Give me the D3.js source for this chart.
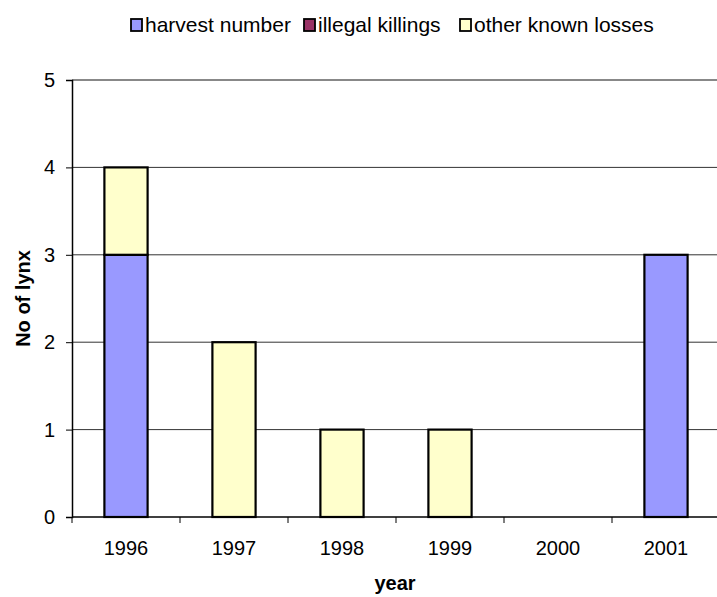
<!DOCTYPE html>
<html>
<head>
<meta charset="utf-8">
<script src="https://cdn.jsdelivr.net/npm/d3@7"></script>
<style>
  body { margin: 0; background: #fff; }
  svg { display: block; font-family: "Liberation Sans", Arial, sans-serif; }
</style>
</head>
<body>
<svg id="chart" width="717" height="597"></svg>
<script>
const years = ['1996', '1997', '1998', '1999', '2000', '2001'];
const harvestNumber = [3, 0, 0, 0, 0, 3];
const illegalKillings = [0, 0, 0, 0, 0, 0];
const otherLosses = [1, 2, 1, 1, 0, 0];
const seriesNames = ['harvest number', 'illegal killings', 'other known losses'];
const seriesColors = ['#9999FF', '#993366', '#FFFFCC'];
const yTicks = [0, 1, 2, 3, 4, 5];

const svg = d3.select('#chart');
const margin = { left: 72, right: -3, top: 80, bottom: 80 };
const width = 717, height = 597;
const fontSize = 20;

const rows = years.map((y, i) => ({
  year: y,
  'harvest number': harvestNumber[i],
  'illegal killings': illegalKillings[i],
  'other known losses': otherLosses[i]
}));
const stacked = d3.stack().keys(seriesNames)(rows);

const x = d3.scaleBand()
  .domain(years)
  .range([margin.left, width - margin.right])
  .paddingInner(0.6)
  .paddingOuter(0.3);
const y = d3.scaleLinear()
  .domain([0, 5])
  .range([height - margin.bottom, margin.top]);

// gridlines
svg.append('g')
  .selectAll('line')
  .data(yTicks.filter(d => d > 0))
  .enter()
  .append('line')
  .attr('x1', margin.left)
  .attr('x2', width)
  .attr('y1', d => y(d))
  .attr('y2', d => y(d))
  .attr('stroke', d => d === 5 ? '#888' : '#333')
  .attr('stroke-width', d => d === 5 ? 2 : 1);

// bars
svg.append('g')
  .selectAll('g')
  .data(stacked)
  .enter()
  .append('g')
  .attr('fill', (d, i) => seriesColors[i])
  .selectAll('rect')
  .data(d => d.filter(p => p[1] - p[0] > 0))
  .enter()
  .append('rect')
  .attr('x', d => x(d.data.year))
  .attr('width', x.bandwidth())
  .attr('y', d => y(d[1]))
  .attr('height', d => y(d[0]) - y(d[1]))
  .attr('stroke', '#000')
  .attr('stroke-width', 2.2);

// y axis
const yAxis = svg.append('g')
  .attr('transform', `translate(${margin.left},0)`)
  .call(d3.axisLeft(y).tickValues(yTicks).tickSize(6).tickPadding(11).tickFormat(d3.format('d')));
yAxis.select('.domain').attr('stroke', '#000').attr('stroke-width', 1.5);
yAxis.selectAll('.tick line').attr('stroke', '#000');
yAxis.selectAll('text')
  .attr('fill', '#000')
  .style('font-size', fontSize + 'px')
  .style('font-family', '"Liberation Sans", Arial, sans-serif');

// x axis
const xEdges = d3.range(years.length + 1).map(i => margin.left + i * (width - margin.right - margin.left) / years.length);
const xAxis = svg.append('g');
xAxis.append('line')
  .attr('x1', margin.left).attr('x2', width)
  .attr('y1', y(0)).attr('y2', y(0))
  .attr('stroke', '#000').attr('stroke-width', 1.5);
xAxis.selectAll('.xt')
  .data(xEdges)
  .enter()
  .append('line')
  .attr('x1', d => d).attr('x2', d => d)
  .attr('y1', y(0)).attr('y2', y(0) + 6)
  .attr('stroke', '#000');
xAxis.selectAll('text')
  .data(years)
  .enter()
  .append('text')
  .attr('x', d => x(d) + x.bandwidth() / 2)
  .attr('y', y(0) + 38)
  .attr('text-anchor', 'middle')
  .style('font-size', fontSize + 'px')
  .text(d => d);

// axis titles
svg.append('text')
  .attr('x', 395)
  .attr('y', 590)
  .attr('text-anchor', 'middle')
  .style('font-size', fontSize + 'px')
  .attr('font-weight', 'bold')
  .text('year');
svg.append('text')
  .attr('transform', `translate(30,${(y(0) + y(5)) / 2}) rotate(-90)`)
  .attr('text-anchor', 'middle')
  .style('font-size', fontSize + 'px')
  .attr('font-weight', 'bold')
  .text('No of lynx');

// legend
const legendX = [131, 304, 460];
const legend = svg.append('g')
  .selectAll('g')
  .data(seriesNames)
  .enter()
  .append('g')
  .attr('transform', (d, i) => `translate(${legendX[i]},19)`);
legend.append('rect')
  .attr('width', 11).attr('height', 12)
  .attr('fill', (d, i) => seriesColors[i])
  .attr('stroke', '#000').attr('stroke-width', 1.8);
legend.append('text')
  .attr('x', 14)
  .attr('y', 13)
  .style('font-size', '21px')
  .text(d => d);
</script>
</body>
</html>
